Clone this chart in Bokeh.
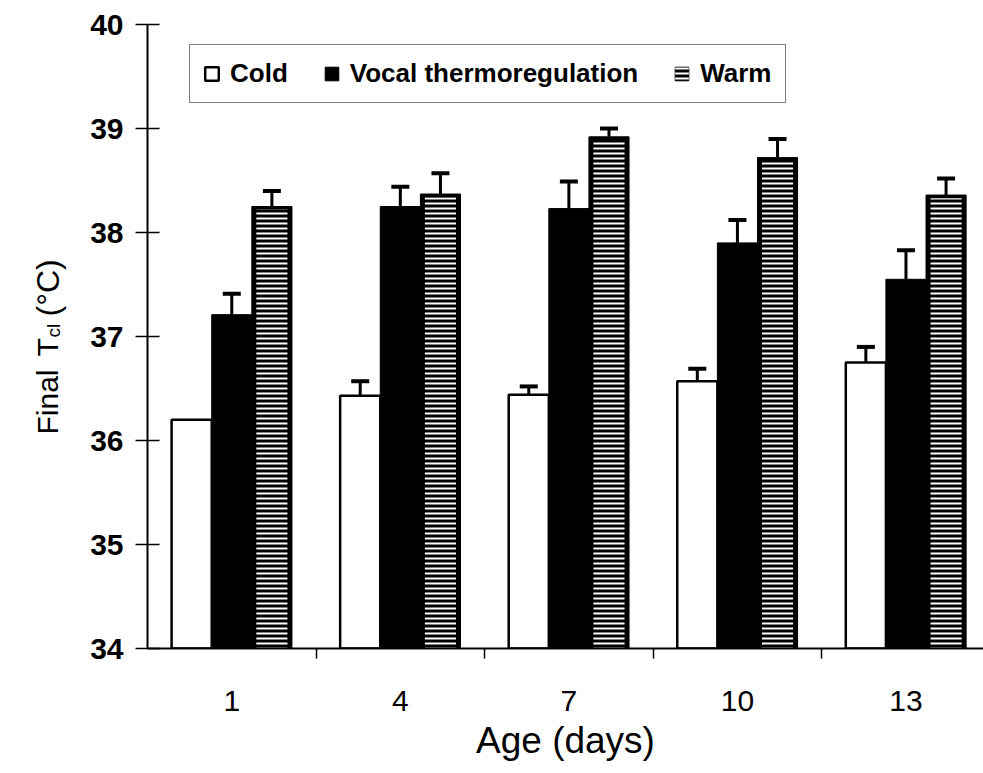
import math
from bokeh.plotting import figure
from bokeh.layouts import row
from bokeh.core.properties import value
from bokeh.models import (ColumnDataSource, Whisker, TeeHead, FixedTicker,
                          Legend, LegendItem, Range1d)
from bokeh.embed import file_html
from bokeh.resources import INLINE

# ---- data ----
ages = ["1", "4", "7", "10", "13"]
cold = [36.20, 36.43, 36.44, 36.57, 36.75]
cold_err = [0.0, 0.14, 0.08, 0.12, 0.15]
vocal = [37.21, 38.25, 38.23, 37.90, 37.55]
vocal_err = [0.20, 0.19, 0.26, 0.22, 0.28]
warm = [38.25, 38.37, 38.92, 38.72, 38.36]
warm_err = [0.15, 0.20, 0.08, 0.18, 0.16]
y_ticks = [34, 35, 36, 37, 38, 39, 40]
series_names = ["Cold", "Vocal thermoregulation", "Warm"]
y_label_parts = ["Final", "T", "cl", "(°C)"]
x_label = "Age (days)"

FONT = "Liberation Sans"
BW = 0.238
offsets = [-BW, 0.0, BW]
xs = list(range(len(ages)))
LEFT_W = 70
H = 773
TOP, BOTTOM = 24, 125   # borders above / below the plotting frame

# ---------------- left strip: y-axis title with subscript ----------------
pl = figure(width=LEFT_W, height=H, output_backend="svg", toolbar_location=None,
            x_range=Range1d(0, LEFT_W), y_range=Range1d(BOTTOM, H - TOP),
            x_axis_location=None, y_axis_location=None,
            min_border_left=0, min_border_right=0, min_border_top=TOP,
            min_border_bottom=BOTTOM)
pl.outline_line_color = None
pl.grid.visible = False
pl.background_fill_color = "white"
pl.border_fill_color = "white"

# canvas positions of each piece (x of baseline, y where text starts)
lab_src = ColumnDataSource(dict(
    x=[47, 47, 53, 47],
    y=[H - 434, H - 356, H - 337, H - 316],
    text=y_label_parts,
    size=["30px", "30px", "19px", "32px"],
))
pl.text(x="x", y="y", text="text", source=lab_src, angle=math.pi / 2,
        text_align="left", text_baseline="alphabetic",
        text_font=value(FONT), text_font_size="size", text_color="black")

# ---------------- main chart ----------------
p = figure(width=983 - LEFT_W, height=H, output_backend="svg", toolbar_location=None,
           x_range=Range1d(-0.5, 4.46), y_range=Range1d(34, 40),
           min_border_left=147 - LEFT_W, min_border_right=0, min_border_top=TOP,
           min_border_bottom=BOTTOM)
p.outline_line_color = None
p.grid.visible = False
p.background_fill_color = "white"
p.border_fill_color = "white"

def src(vals, errs, off):
    return ColumnDataSource(dict(x=[x + off for x in xs], top=vals,
                                 upper=[v + e for v, e in zip(vals, errs)],
                                 err=errs))

s_cold = src(cold, cold_err, offsets[0])
s_vocal = src(vocal, vocal_err, offsets[1])
s_warm = src(warm, warm_err, offsets[2])

r_cold = p.vbar(x="x", top="top", bottom=34, width=BW, source=s_cold,
                fill_color="white", line_color="black", line_width=2.5)
r_vocal = p.vbar(x="x", top="top", bottom=34, width=BW, source=s_vocal,
                 fill_color="black", line_color="black", line_width=1)
r_warm = p.vbar(x="x", top="top", bottom=34, width=BW, source=s_warm,
                fill_color="black", line_color="black", line_width=1)
s_warm_h = ColumnDataSource(dict(x=s_warm.data["x"], top=[v - 0.03 for v in warm]))
r_warm_h = p.vbar(x="x", top="top", bottom=34, width=BW - 9 / 168.5,
                  source=s_warm_h, fill_alpha=0, line_alpha=0,
                  hatch_pattern="horizontal_line", hatch_color="white",
                  hatch_weight=2, hatch_scale=5)

for s in (s_cold, s_vocal, s_warm):
    keep = [i for i, e in enumerate(s.data["err"]) if e > 0]
    ws = ColumnDataSource(dict(x=[s.data["x"][i] for i in keep],
                               lower=[s.data["top"][i] for i in keep],
                               upper=[s.data["upper"][i] for i in keep]))
    w = Whisker(base="x", lower="lower", upper="upper", source=ws,
                line_color="black", line_width=3,
                upper_head=TeeHead(size=18, line_width=4, line_color="black"),
                lower_head=None)
    p.add_layout(w)

# ---- axes ----
yax = p.yaxis[0]
yax.ticker = FixedTicker(ticks=y_ticks, minor_ticks=[])
yax.major_tick_in = 12
yax.major_tick_out = 12
yax.major_tick_line_width = 1.5
yax.axis_line_width = 2
yax.major_label_standoff = 12
yax.major_label_text_font = FONT
yax.major_label_text_font_style = "bold"
yax.major_label_text_font_size = "30px"
yax.major_label_text_color = "black"

xax = p.xaxis[0]
xax.ticker = FixedTicker(ticks=xs, minor_ticks=[x + 0.5 for x in xs[:-1]])
xax.major_label_overrides = {i: a for i, a in zip(xs, ages)}
xax.major_tick_line_color = None
xax.major_tick_in = 0
xax.major_tick_out = 0
xax.minor_tick_in = 0
xax.minor_tick_out = 10
xax.minor_tick_line_width = 1.5
xax.minor_tick_line_color = "black"
xax.axis_line_width = 2
xax.major_label_standoff = 32
xax.major_label_text_font = FONT
xax.major_label_text_font_size = "30px"
xax.major_label_text_color = "black"
xax.axis_label = x_label
xax.axis_label_text_font = FONT
xax.axis_label_text_font_style = "normal"
xax.axis_label_text_font_size = "37px"
xax.axis_label_standoff = 6
xax.axis_label_text_color = "black"

# ---- legend ----
legend = Legend(items=[LegendItem(label=series_names[0], renderers=[r_cold]),
                       LegendItem(label=series_names[1], renderers=[r_vocal]),
                       LegendItem(label=series_names[2], renderers=[r_warm, r_warm_h])],
                orientation="horizontal", location=(42, 545),
                glyph_width=17, glyph_height=17, label_standoff=10, spacing=35,
                padding=13, margin=0, label_height=24,
                border_line_color="black", border_line_width=1.5,
                label_text_font=FONT, label_text_font_style="bold",
                label_text_font_size="26px", label_text_color="black",
                background_fill_color="white", background_fill_alpha=1)
p.add_layout(legend)

layout = row(pl, p, spacing=0)
open("out.html", "w").write(file_html(layout, INLINE))
